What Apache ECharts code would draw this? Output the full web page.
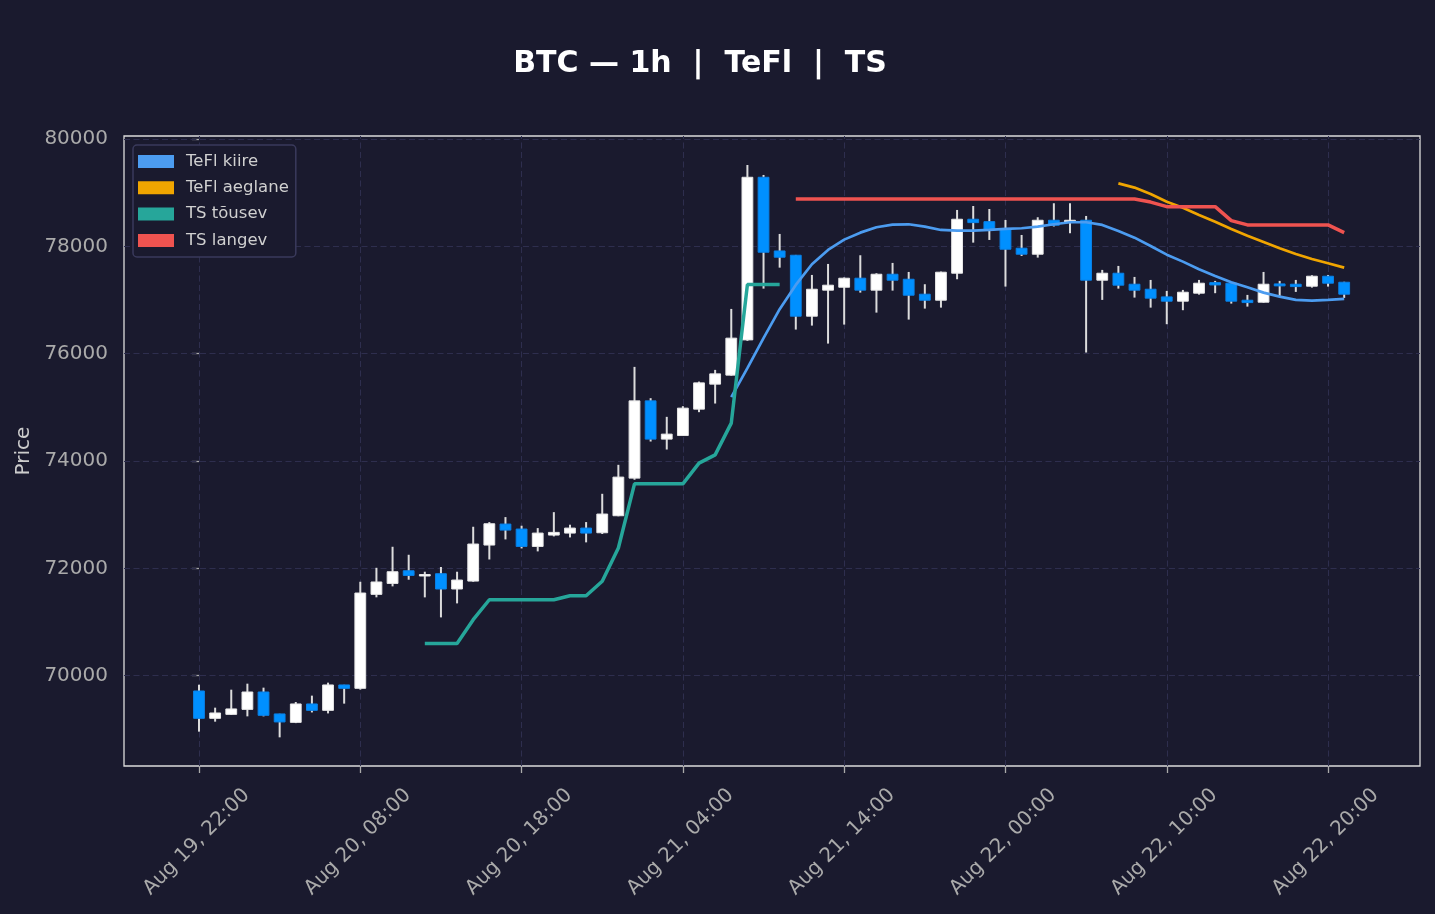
<!DOCTYPE html>
<html>
<head>
<meta charset="utf-8">
<style>
  html, body { margin: 0; padding: 0; background: #1a1a2e; }
  #chart { width: 1435px; height: 914px; }
</style>
<script src="https://cdn.jsdelivr.net/npm/echarts@6/dist/echarts.min.js"></script>
</head>
<body>
<div id="chart"></div>
<script>
// hourly candles, index 0 = Aug 19 22:00
const opens = [69715, 69205, 69279, 69372, 69696, 69287, 69130, 69473, 69354, 69827, 69764, 71515,
  71719, 71955, 71870, 71900, 71615, 71763, 72434, 72825, 72732, 72408, 72620, 72657,
  72750, 72663, 72980, 73681, 75121, 74408, 74475, 74966, 75432, 75600, 76257, 79287,
  77914, 77834, 76698, 77183, 77238, 77406, 77183, 77480, 77387, 77108, 76996, 77499,
  78505, 78460, 78318, 77965, 77853, 78486, 78449, 78486, 77369, 77499, 77294, 77201,
  77058, 76978, 77127, 77324, 77313, 76996, 76959, 77300, 77294, 77257, 77443, 77331];
const highs = [69832, 69404, 69739, 69851, 69777, 69290, 69510, 69628, 69870, 69830, 71750, 72010,
  72402, 72253, 71937, 72025, 71937, 72775, 72862, 72955, 72794, 72750, 73047, 72813,
  72862, 73389, 73929, 75754, 75171, 74823, 75022, 75480, 75698, 76834, 79516, 79330,
  78231, 77840, 77467, 77672, 77420, 77834, 77499, 77691, 77523, 77294, 77530, 78678,
  78752, 78696, 78492, 78212, 78542, 78803, 78803, 78566, 77561, 77635, 77430, 77374,
  77170, 77188, 77374, 77356, 77320, 77095, 77523, 77356, 77374, 77462, 77467, 77340];
const lows = [68957, 69143, 69270, 69242, 69242, 68851, 69116, 69315, 69297, 69479, 69740, 71460,
  71664, 71788, 71459, 71086, 71347, 71750, 72165, 72539, 72371, 72316, 72595, 72576,
  72484, 72640, 72970, 73650, 74363, 74214, 74470, 74910, 75071, 75590, 76238, 77212,
  77603, 76449, 76523, 76188, 76542, 77138, 76765, 77175, 76635, 76840, 76858, 77387,
  78069, 78119, 77250, 77821, 77790, 78370, 78244, 76021, 77002, 77212, 77045, 76858,
  76549, 76810, 77100, 77127, 76933, 76877, 76950, 77077, 77151, 77231, 77250, 77039];
const closes = [69205, 69305, 69380, 69696, 69261, 69138, 69473, 69354, 69827, 69764, 71540, 71746,
  71937, 71868, 71885, 71615, 71782, 72453, 72831, 72713, 72408, 72657, 72670, 72750,
  72657, 73012, 73700, 75121, 74408, 74501, 74985, 75456, 75624, 76289, 79287, 77890,
  77797, 76698, 77201, 77276, 77406, 77183, 77480, 77369, 77089, 76996, 77518, 78505,
  78442, 78305, 77946, 77853, 78486, 78393, 78486, 77369, 77499, 77276, 77183, 77034,
  76978, 77145, 77313, 77281, 76978, 76952, 77294, 77263, 77250, 77443, 77313, 77108];

// indicator lines (first value sits on candle index given by *Start)
const teflFastStart = 33;
const teflFast = [75190, 75730, 76290, 76830, 77281, 77667, 77933, 78125, 78255, 78355, 78404, 78411,
  78367, 78305, 78293, 78293, 78305, 78324, 78337, 78367, 78411, 78449, 78449, 78399,
  78287, 78162, 78007, 77845, 77715, 77574, 77449, 77331, 77238, 77138, 77064, 77002,
  76989, 77002, 77020];
const teflSlowStart = 57;
const teflSlow = [79173, 79095, 78976, 78832, 78721, 78585, 78460, 78324, 78199, 78082, 77965,
  77858, 77765, 77685, 77603];
const tsUpStart = 14;
const tsUp = [70600, 70600, 70600, 71043, 71415, 71415, 71415, 71415, 71415, 71490, 71490, 71760,
  72380, 73575, 73575, 73575, 73575, 73961, 74115, 74706, 77287, 77287, 77287];
const tsDownStart = 37;
const tsDown = [78883, 78883, 78883, 78883, 78883, 78883, 78883, 78883, 78883, 78883, 78883, 78883,
  78883, 78883, 78883, 78883, 78883, 78883, 78883, 78883, 78883, 78883, 78825, 78740,
  78740, 78740, 78740, 78479, 78399, 78399, 78399, 78399, 78399, 78399, 78255];

// axis ticks
const xTickValues = [0, 10, 20, 30, 40, 50, 60, 70];
const xTickLabels = ['Aug 19, 22:00', 'Aug 20, 08:00', 'Aug 20, 18:00', 'Aug 21, 04:00',
  'Aug 21, 14:00', 'Aug 22, 00:00', 'Aug 22, 10:00', 'Aug 22, 20:00'];
const yTickValues = [70000, 72000, 74000, 76000, 78000, 80000];

const BG = '#1a1a2e';
const FONT = 'DejaVu Sans';
const UP = '#ffffff';
const DOWN = '#0090ff';
const WICK = '#dcdcdc';
const GRID_LINE = '#2e2e4e';
const LABEL_SHIFT = 2.95;

const candleData = opens.map((o, i) => [i, o, closes[i], lows[i], highs[i]]);
const toPairs = (start, arr) => arr.map((v, k) => [start + k, v]);

function renderCandle(params, api) {
  const x = api.value(0);
  const o = api.value(1), c = api.value(2), lo = api.value(3), hi = api.value(4);
  const pHi = api.coord([x, hi]);
  const pLo = api.coord([x, lo]);
  const pO = api.coord([x, o]);
  const pC = api.coord([x, c]);
  const w = api.size([0.67, 0])[0];
  const up = c >= o;
  const top = Math.min(pO[1], pC[1]);
  const h = Math.max(Math.abs(pO[1] - pC[1]), 1.5);
  return {
    type: 'group',
    children: [
      { type: 'line', shape: { x1: pHi[0], y1: pHi[1], x2: pLo[0], y2: pLo[1] },
        style: { stroke: WICK, lineWidth: 2 } },
      { type: 'rect', shape: { x: pO[0] - w / 2, y: top, width: w, height: h },
        style: { fill: up ? UP : DOWN, stroke: up ? '#e6e6e6' : '#0a80e6', lineWidth: 1 } }
    ]
  };
}

const lineSeries = (name, color, width, start, arr) => ({
  name, type: 'line', data: toPairs(start, arr), showSymbol: false, symbol: 'none',
  color, lineStyle: { color, width }, z: 4, animation: false
});

const chart = echarts.init(document.getElementById('chart'));
chart.setOption({
  backgroundColor: BG,
  animation: false,
  textStyle: { fontFamily: FONT },
  title: {
    text: 'BTC — 1h  |  TeFl  |  TS',
    left: 700, top: 49, padding: 0, textAlign: 'center',
    textStyle: { color: '#ffffff', fontSize: 30, fontWeight: 'bold', fontFamily: FONT }
  },
  legend: {
    data: ['TeFl kiire', 'TeFl aeglane', 'TS tõusev', 'TS langev'],
    orient: 'vertical', left: 133, top: 145,
    icon: 'rect', itemWidth: 36, itemHeight: 13, itemGap: 9.3,
    padding: [8, 7, 8, 5],
    backgroundColor: BG, borderColor: '#3a3a5c', borderWidth: 1.5, borderRadius: 4,
    textStyle: { color: '#d0d0d0', fontSize: 16.5, fontFamily: FONT, lineHeight: 14, padding: [0, 0, 0, 7] }
  },
  grid: {
    left: 124, right: 15, top: 136, bottom: 148,
    outerBoundsMode: 'none', containLabel: false,
    show: true, borderColor: '#dcdcdc', borderWidth: 1.3, backgroundColor: 'transparent'
  },
  xAxis: {
    type: 'value', min: -4.65, max: 75.7,
    axisLine: { show: false },
    splitLine: { show: false },
    axisTick: { show: true, length: 7, customValues: xTickValues, lineStyle: { color: '#aaaaaa', width: 1.3 } },
    axisLabel: {
      customValues: xTickValues.map(v => v + LABEL_SHIFT),
      formatter: v => xTickLabels[xTickValues.indexOf(Math.round((v - LABEL_SHIFT) * 100) / 100)] || '',
      rotate: 45, margin: 26, color: '#aaaaaa', fontSize: 20, fontFamily: FONT
    }
  },
  yAxis: {
    type: 'value', min: 68317, max: 80056,
    name: 'Price', nameLocation: 'middle', nameGap: 86, nameRotate: 90,
    nameTextStyle: { color: '#cccccc', fontSize: 20, fontFamily: FONT },
    axisLine: { show: false },
    splitLine: { show: false },
    axisTick: { show: true, length: 7, customValues: yTickValues, lineStyle: { color: '#aaaaaa', width: 1.3 } },
    axisLabel: { customValues: yTickValues, formatter: v => String(v), margin: 16, color: '#aaaaaa', fontSize: 20, fontFamily: FONT }
  },
  series: [
    {
      name: 'grid', type: 'line', data: [], z: 1, silent: true,
      markLine: {
        silent: true, symbol: ['none', 'none'], label: { show: false }, z: 1, animation: false,
        lineStyle: { color: GRID_LINE, type: [6, 3.5], width: 1 },
        data: xTickValues.map(v => ({ xAxis: v })).concat(yTickValues.map(v => ({ yAxis: v })))
      }
    },
    {
      name: 'BTC', type: 'custom', renderItem: renderCandle, data: candleData,
      encode: { x: 0, y: [1, 2, 3, 4] }, z: 2, animation: false
    },
    lineSeries('TeFl kiire', '#4c9cf0', 2.7, teflFastStart, teflFast),
    lineSeries('TeFl aeglane', '#f0a500', 2.7, teflSlowStart, teflSlow),
    lineSeries('TS tõusev', '#26a69a', 3.5, tsUpStart, tsUp),
    lineSeries('TS langev', '#ef5350', 3.5, tsDownStart, tsDown)
  ]
});
</script>
</body>
</html>
